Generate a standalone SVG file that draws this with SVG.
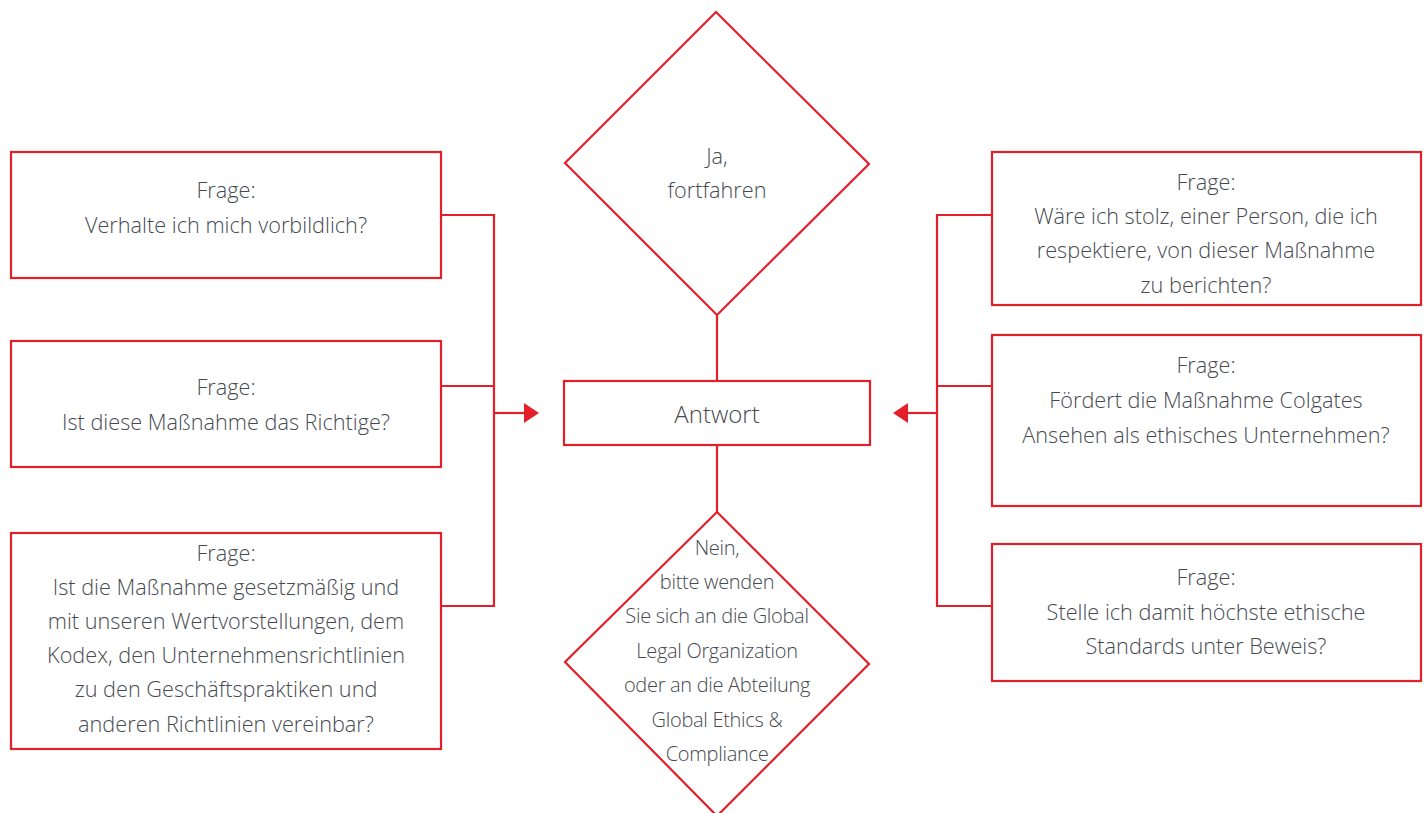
<svg xmlns="http://www.w3.org/2000/svg" width="1425" height="813" viewBox="0 0 1425 813">
<defs>
<style>
.box{fill:#ffffff;stroke:#e3202a;stroke-width:2.2}
.ln{fill:none;stroke:#e3202a;stroke-width:2.2}
.ah{fill:#e3202a;stroke:none}
text{font-family:"Open Sans","Liberation Sans",sans-serif;font-weight:300;fill:#464a50;text-anchor:middle;font-size:21.7px}
.big{font-size:24px}
.dt{font-size:20px;letter-spacing:-0.3px}
</style>
</defs>
<rect width="1425" height="813" fill="#ffffff"/>
<g id="connectors">
<polyline class="ln" points="441,215 494,215 494,606 441,606"/>
<line class="ln" x1="441" y1="386" x2="494" y2="386"/>
<line class="ln" x1="494" y1="413" x2="526" y2="413"/>
<polygon class="ah" points="524,403 539,413 524,423"/>
<polyline class="ln" points="992,215 937,215 937,606 992,606"/>
<line class="ln" x1="937" y1="386" x2="992" y2="386"/>
<line class="ln" x1="937" y1="413" x2="906" y2="413"/>
<polygon class="ah" points="908,403 893,413 908,423"/>
<line class="ln" x1="717" y1="315" x2="717" y2="381"/>
<line class="ln" x1="717" y1="445" x2="717" y2="512"/>
</g>
<g id="node-ja">
<polygon class="box" points="716,12 869,164 717,315 565,163"/>
<text x="717" y="164">Ja,</text>
<text x="717" y="198">fortfahren</text>
</g>
<g id="node-antwort">
<rect class="box" x="564" y="381" width="306" height="64"/>
<text class="big" x="717" y="423">Antwort</text>
</g>
<g id="node-nein">
<polygon class="box" points="717,512 869,664 717,816 565,662"/>
<text class="dt" x="717" y="555">Nein,</text>
<text class="dt" x="717" y="589">bitte wenden</text>
<text class="dt" x="717" y="623">Sie sich an die Global</text>
<text class="dt" x="717" y="658">Legal Organization</text>
<text class="dt" x="717" y="692">oder an die Abteilung</text>
<text class="dt" x="717" y="727">Global Ethics &amp;</text>
<text class="dt" x="717" y="761">Compliance</text>
</g>
<g id="node-l1">
<rect class="box" x="11" y="152" width="430" height="126"/>
<text x="226" y="198">Frage:</text>
<text x="226" y="233">Verhalte ich mich vorbildlich?</text>
</g>
<g id="node-l2">
<rect class="box" x="11" y="341" width="430" height="126"/>
<text x="226" y="395">Frage:</text>
<text x="226" y="430">Ist diese Maßnahme das Richtige?</text>
</g>
<g id="node-l3">
<rect class="box" x="11" y="533" width="430" height="216"/>
<text x="226" y="561">Frage:</text>
<text x="226" y="595">Ist die Maßnahme gesetzmäßig und</text>
<text x="226" y="629">mit unseren Wertvorstellungen, dem</text>
<text x="226" y="663">Kodex, den Unternehmensrichtlinien</text>
<text x="226" y="697">zu den Geschäftspraktiken und</text>
<text x="226" y="732">anderen Richtlinien vereinbar?</text>
</g>
<g id="node-r1">
<rect class="box" x="992" y="152" width="429" height="153"/>
<text x="1206" y="190">Frage:</text>
<text x="1206" y="224">Wäre ich stolz, einer Person, die ich</text>
<text x="1206" y="258">respektiere, von dieser Maßnahme</text>
<text x="1206" y="293">zu berichten?</text>
</g>
<g id="node-r2">
<rect class="box" x="992" y="335" width="429" height="171"/>
<text x="1206" y="373">Frage:</text>
<text x="1206" y="408">Fördert die Maßnahme Colgates</text>
<text x="1206" y="443">Ansehen als ethisches Unternehmen?</text>
</g>
<g id="node-r3">
<rect class="box" x="992" y="544" width="429" height="137"/>
<text x="1206" y="585">Frage:</text>
<text x="1206" y="620">Stelle ich damit höchste ethische</text>
<text x="1206" y="654">Standards unter Beweis?</text>
</g>
</svg>
